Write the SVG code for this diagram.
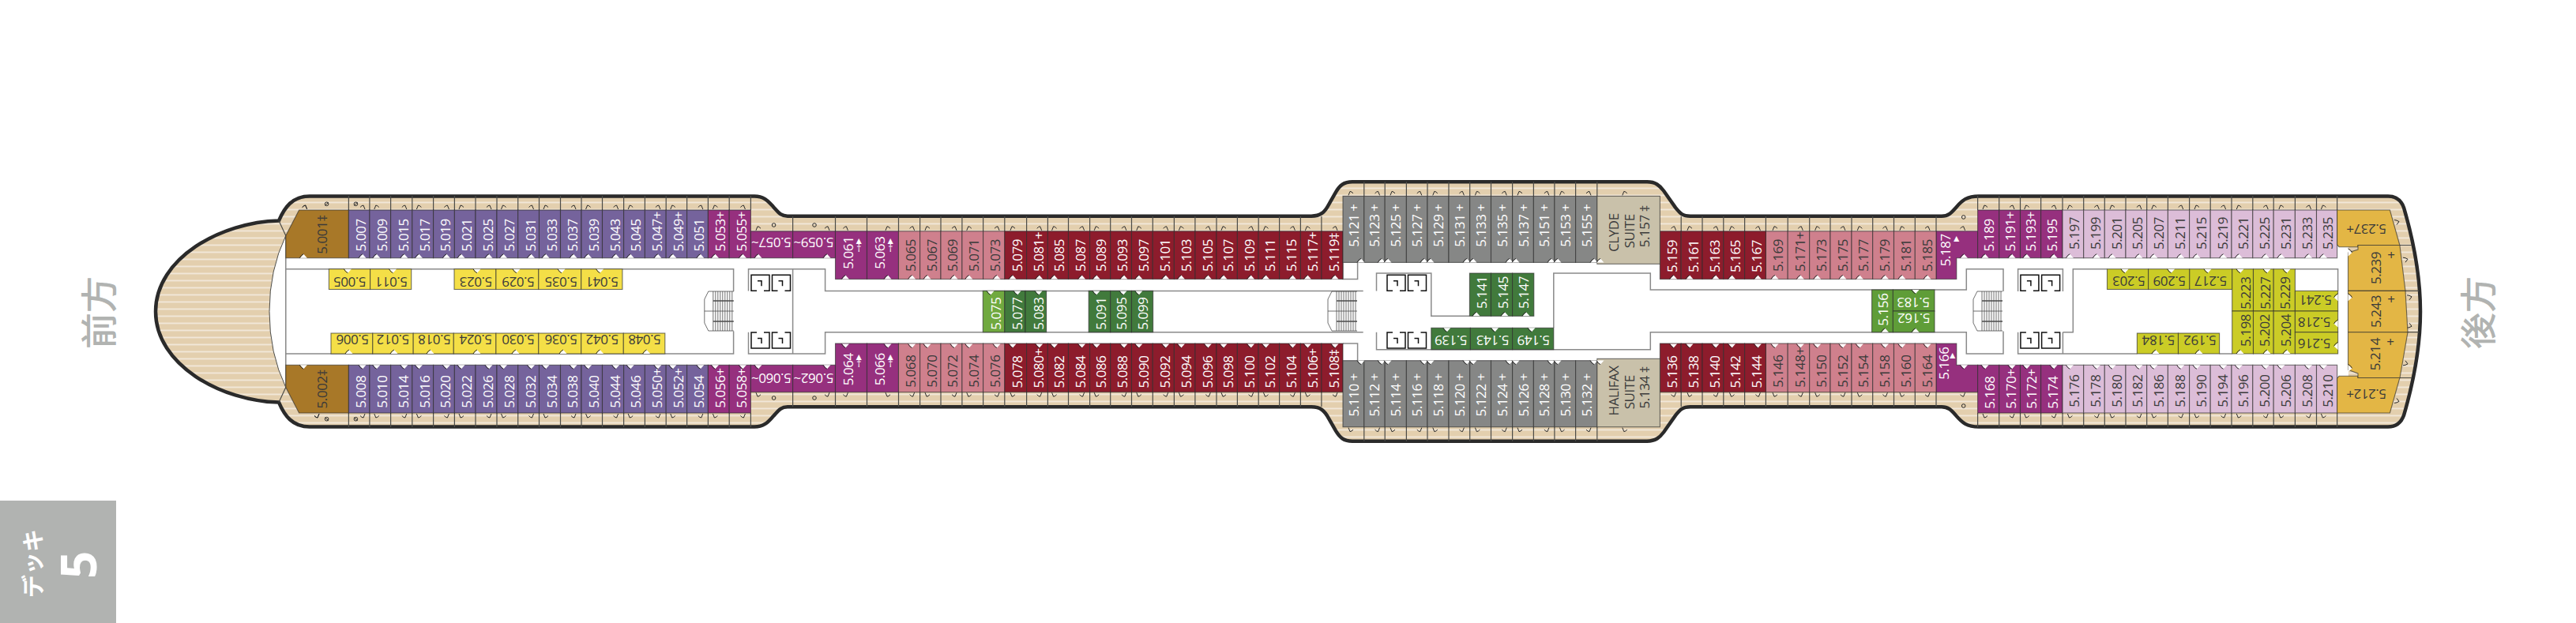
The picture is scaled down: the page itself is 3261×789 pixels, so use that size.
<svg xmlns="http://www.w3.org/2000/svg" width="3261" height="789" viewBox="0 0 3261 789">
<style>
text{font-family:"Open Sans","Noto Sans",sans-serif;font-size:17px;letter-spacing:-.45px;fill:#3a3a3a}
.cjk{font-family:"Noto Sans CJK JP",sans-serif;font-weight:500;letter-spacing:0}
.sm{font-size:12px;text-anchor:middle}
.pl{text-anchor:middle}
rect,.rm{stroke:#2b2b2b;stroke-opacity:.65;stroke-width:1.1}
.w text,text.w{fill:#fff}
.p rect{fill:#75639c}.m rect,.m path{fill:#96307e}.k rect{fill:#cf808d}.r rect{fill:#8d1c2c}.g rect{fill:#868786}
.s rect{fill:#c9c1aa}.l rect{fill:#dcbdd8}.y rect{fill:#f4df47}.o rect{fill:#cbcc26}.a path{fill:#e3b645}.b path{fill:#a87828}
.d rect{fill:#417a3c}.e rect{fill:#5f9d38}.f rect{fill:#70a93f}
.wall{fill:none;stroke:#8a8a8a;stroke-width:1.5}
.div{fill:none;stroke:#4c4c48;stroke-width:1.2}
.ml{fill:none;stroke:none}
.mk{fill:none;stroke:#2b2b2b;stroke-width:1}
.lift{fill:none;stroke:#111;stroke-width:1.5}
</style>
<defs>
<pattern id="dk" width="9" height="9" patternUnits="userSpaceOnUse"><rect width="9" height="9" fill="#e3cfae" style="stroke:none"/><rect y="3.500" width="9" height="1.900" fill="#f1e7d8" style="stroke:none"/></pattern>
<marker id="cl" markerUnits="userSpaceOnUse" markerWidth="16" markerHeight="16" viewBox="-8 -8 16 16" overflow="visible"><path class="mk" d="M-3-3.500Q-1-6 1-6L3-1"/></marker>
<marker id="cr" markerUnits="userSpaceOnUse" markerWidth="16" markerHeight="16" viewBox="-8 -8 16 16" overflow="visible"><path class="mk" d="M3-3.500Q1-6-1-6L-3-1"/></marker>
<marker id="nu" markerUnits="userSpaceOnUse" markerWidth="16" markerHeight="16" viewBox="-8 -8 16 16" overflow="visible"><path fill="#fff" d="M-4.500 0 0-5 4.500 0Z"/><path class="mk" d="M-5 0Q-3-4 0-5"/></marker>
<marker id="nd" markerUnits="userSpaceOnUse" markerWidth="16" markerHeight="16" viewBox="-8 -8 16 16" overflow="visible"><path fill="#fff" d="M-4.500 0 0 5 4.500 0Z"/><path class="mk" d="M-5 0Q-3 4 0 5"/></marker>
<marker id="nl" markerUnits="userSpaceOnUse" markerWidth="16" markerHeight="16" viewBox="-8 -8 16 16" overflow="visible"><path fill="#fff" d="M0-4.500-5 0 0 4.500Z"/><path class="mk" d="M0-5Q-4-3-5 0"/></marker>
<marker id="nr" markerUnits="userSpaceOnUse" markerWidth="16" markerHeight="16" viewBox="-8 -8 16 16" overflow="visible"><path fill="#fff" d="M0-4.500 5 0 0 4.500Z"/><path class="mk" d="M0-5Q4-3 5 0"/></marker>
<marker id="co" markerUnits="userSpaceOnUse" markerWidth="16" markerHeight="16" viewBox="-8 -8 16 16" overflow="visible"><path class="mk" d="M-3-3Q0-3 3-1L0 3"/></marker>
<path id="lt" class="lift" d="M7 20H0V0H23V20H16M8 7.500H13V14"/>
<path id="lb" class="lift" d="M7 0H0V20H23V0H16M8 7.500H13V14"/>
<g id="st" fill="none" stroke="#4c4c4c" stroke-width=".8"><path d="M37 0H5L0 10V40L5 50H37"/><path d="M0 25H37M11 0v50M14 0v50M17 0v50M20 0v50M23 0v50M26 0v50M29 0v50M32 0v50M35 0v50"/><path stroke-width="1.600" d="M11 12H37M11 38H37"/></g>
</defs>

<g id="hull">
<path fill="url(#dk)" stroke="#2a2a2a" stroke-width="4.500" d="M392 248.400H955C968 248.400 973 255.500 979 262C985 268.500 988 273.700 997 273.700H1660C1672 273.700 1677 268.500 1682 259.200L1691 243.300C1696 235 1701 230.300 1712 230.300H2085C2096 230.300 2101 235 2106 241.500L2121 262.900C2127 270.400 2130 273.700 2140 273.700H2458C2467 273.700 2471 268.500 2476 262.900C2484 253.600 2490 248.400 2505 248.400H3023C3034 248.400 3040 254.500 3043 262.900C3055 304 3064 350.700 3064 394.500C3064 438.300 3055 485 3043 526.100C3040 534.500 3034 540.600 3023 540.600H2505C2490 540.600 2484 535.400 2476 526.100C2471 520.500 2467 515.300 2458 515.300H2140C2130 515.300 2127 518.600 2121 526.100L2106 547.500C2101 554 2096 558.700 2085 558.700H1712C1701 558.700 1696 554 1691 545.700L1682 529.800C1677 520.500 1672 515.300 1660 515.300H997C988 515.300 985 520.500 979 527C973 533.500 968 540.600 955 540.600H392C370 540.600 360 526 353 509.600C280 508 197 462 197 394.500C197 327 280 281 353 279.400C360 263 370 248.400 392 248.400Z"/>
<path fill="#fff" stroke="#4c4c48" d="M361.800 298.400Q341 342 341 394.500Q341 447 361.800 490.600Z"/>
<path class="div" d="M353 279.400L361.800 298.400M353 509.600L361.800 490.600"/>
</g>
<rect x="361.800" y="304" width="2611" height="186" fill="#fff" style="stroke:none"/>

<g id="balcony">
<path class="div" d="M441.400 248v18M467.900 248v18M494.600 248v18M521.800 248v18M548.600 248v18M575.400 248v18M602 248v18M629 248v18M655.700 248v18M682.500 248v18M709.500 248v18M736 248v18M762.500 248v18M789.600 248v18M816.400 248v18M843.200 248v18M869.600 248v18M896.400 248v18M923.200 248v18M950.400 248v18M2503.600 248v18M2530.700 248v18M2557.500 248v18M2583.600 248v18M2611 248v18M2637.700 248v18M2664.300 248v18M2691 248v18M2717.700 248v18M2744.400 248v18M2771.600 248v18M2798.200 248v18M2825 248v18M2851.800 248v18M2878.200 248v18M2905.400 248v18M2932.500 248v18M2958.600 248v18M1003.600 274v19M1057.500 274v19M1097.500 274v19M1137.500 274v19M1164.600 274v19M1191 274v19M1217.900 274v19M1244.600 274v19M1271.800 274v19M1299.600 274v19M1326.400 274v19M1352.500 274v19M1379.600 274v19M1405.700 274v19M1432.500 274v19M1459.300 274v19M1486.400 274v19M1512.900 274v19M1540 274v19M1566.400 274v19M1593.200 274v19M1619.600 274v19M1646.400 274v19M1672.900 274v19M2128.200 274v19M2155 274v19M2181.800 274v19M2208.600 274v19M2235.400 274v19M2263.200 274v19M2290.700 274v19M2317 274v19M2344 274v19M2370.700 274v19M2397.500 274v19M2424.300 274v19M2451 274v19M1726.800 230.300v18M1753.200 230.300v18M1780.400 230.300v18M1807 230.300v18M1834 230.300v18M1860.700 230.300v18M1887.500 230.300v18M1914.600 230.300v18M1941.400 230.300v18M1967.900 230.300v18M1994.600 230.300v18M2021.800 230.300v18M3037.900 310.500H3053M3045 368.400H3062"/>
<g class="mk"><circle cx="413.600" cy="258.300" r="2.300"/><circle cx="450.400" cy="258.300" r="2.300"/><path d="M411.600 260.300l4-4M448.400 260.300l4-4"/><circle cx="979.600" cy="285" r="2.300"/><circle cx="1031" cy="285" r="2.300"/><circle cx="2485.700" cy="275" r="2.300"/></g>
<polyline class="ml" marker-start="url(#cl)" marker-mid="url(#cl)" marker-end="url(#cl)" points="459,266 511.8,266 565.4,266 619,266 672.5,266 726,266 779.6,266 832.9,266 886.8,266 940.4,266 2547,266 2600,266 2654.3,266 2707.9,266 2760.7,266 2814.6,266 2868.2,266 2922.5,266 1047,292.8 1070.4,292.8 1154.6,292.8 1208,292.8 1262,292.8 1315.7,292.8 1369.6,292.8 1422.9,292.8 1475.7,292.8 1529.3,292.8 1583.6,292.8 1636.4,292.8 1690,292.8 2118.6,292.8 2172,292.8 2225.4,292.8 2279.3,292.8 2332.9,292.8 2386.4,292.8 2440,292.8 2484.6,292.8 1743.6,248.4 1796.8,248.4 1850.4,248.4 1904.3,248.4 1957.9,248.4 2011,248.4"/>
<polyline class="ml" marker-start="url(#cr)" marker-mid="url(#cr)" marker-end="url(#cr)" points="476.8,266 530.4,266 584,266 637.5,266 691,266 744.6,266 798.2,266 851.8,266 905.4,266 2513,266 2565.7,266 2620.4,266 2674,266 2726.8,266 2781,266 2834.3,266 2887.9,266 2941.4,266 960,292.8 1124,292.8 1174,292.8 1226.8,292.8 1282,292.8 1334.6,292.8 1388.2,292.8 1441.8,292.8 1495.4,292.8 1549,292.8 1602.5,292.8 1655.4,292.8 2139,292.8 2192.5,292.8 2247,292.8 2300.7,292.8 2354.3,292.8 2407.9,292.8 1710,248.4 1763,248.4 1816.8,248.4 1870.4,248.4 1924,248.4 1977.5,248.4 2056.8,248.4"/>
<polyline class="ml" marker-start="url(#co)" marker-mid="url(#co)" marker-end="url(#co)" points="3034,281.6 3045,329.2 3050,376.8"/>
</g>
<use href="#balcony" transform="matrix(1 0 0 -1 0 789)"/>
<polyline class="ml" marker-start="url(#cl)" marker-end="url(#cl)" points="385.7,266 385.7,266"/>
<polyline class="ml" marker-start="url(#cl)" marker-end="url(#cl)" transform="matrix(1 0 0 -1 0 789)" points="401,266 401,266"/>

<g id="walls"><path class="wall" d="M361.800 326.700V462.300M361.800 340.700H928.600V369M928.600 419.400V448H361.800M947.500 368.400V340.700H1044.600V368.400H1700M947.500 420.700V448H1044.600V420.700H1700M1003.600 340.700V448M1700 332.400V353.500H1718.600V332.400M1700 435H1718.600V456.700M1690 368.400H1725.700M1690 420.700H1725.700M1742.500 368.400V346H1811.800V400.300H1860.400M1742.500 420.700V442.700H2089.300V420.700H2489.300V448H2536V419.400M1966.800 415V346H2089.300V367H2489.300V340.700H2536V369M2554.600 369V340.700H2611.400V369M2554.600 420.700V448H2705.400M2611.400 420.700V448M2611.400 420.700H2624.300V340.700H2667.500M2905.400 340.700H2959.600V368.400M2809.600 448H2825.700"/>
<use href="#st" x="891.800" y="369"/><use href="#st" x="1681" y="369"/><use href="#st" x="2498" y="369"/>
<use href="#lt" x="951" y="348.300"/><use href="#lt" x="977.500" y="348.300"/><use href="#lb" x="951" y="421"/><use href="#lb" x="977.500" y="421"/>
<use href="#lt" x="1756" y="348.300"/><use href="#lt" x="1782.500" y="348.300"/><use href="#lb" x="1756" y="421"/><use href="#lb" x="1782.500" y="421"/>
<use href="#lt" x="2557.900" y="348.300"/><use href="#lt" x="2584.600" y="348.300"/><use href="#lb" x="2557.900" y="421"/><use href="#lb" x="2584.600" y="421"/>
</g>

<g id="fwd">
<g class="b"><path class="rm" d="M361.800 326.700V298.400L378.600 266H441.400V326.700Z"/><text transform="translate(413.600 321.700)rotate(-90)">5.001‡</text></g>
<g class="b"><path class="rm" d="M361.800 462.300V490.600L378.600 523H441.400V462.300Z"/><text transform="translate(413.600 517.400)rotate(-90)">5.002‡</text></g>
</g>
<g class="p w">
<rect x="441.400" y="266" width="26.500" height="60.700"/><text transform="translate(462.900 318.400)rotate(-90)">5.007</text>
<rect x="467.900" y="266" width="26.700" height="60.700"/><text transform="translate(489.600 318.400)rotate(-90)">5.009</text>
<rect x="494.600" y="266" width="27.200" height="60.700"/><text transform="translate(516.800 318.400)rotate(-90)">5.015</text>
<rect x="521.800" y="266" width="26.800" height="60.700"/><text transform="translate(543.600 318.400)rotate(-90)">5.017</text>
<rect x="548.600" y="266" width="26.800" height="60.700"/><text transform="translate(570.400 318.400)rotate(-90)">5.019</text>
<rect x="575.400" y="266" width="26.600" height="60.700"/><text transform="translate(597 318.400)rotate(-90)">5.021</text>
<rect x="602" y="266" width="27" height="60.700"/><text transform="translate(624 318.400)rotate(-90)">5.025</text>
<rect x="629" y="266" width="26.700" height="60.700"/><text transform="translate(650.700 318.400)rotate(-90)">5.027</text>
<rect x="655.700" y="266" width="26.800" height="60.700"/><text transform="translate(677.500 318.400)rotate(-90)">5.031</text>
<rect x="682.500" y="266" width="27" height="60.700"/><text transform="translate(704.500 318.400)rotate(-90)">5.033</text>
<rect x="709.500" y="266" width="26.500" height="60.700"/><text transform="translate(731 318.400)rotate(-90)">5.037</text>
<rect x="736" y="266" width="26.500" height="60.700"/><text transform="translate(757.500 318.400)rotate(-90)">5.039</text>
<rect x="762.500" y="266" width="27.100" height="60.700"/><text transform="translate(784.600 318.400)rotate(-90)">5.043</text>
<rect x="789.600" y="266" width="26.800" height="60.700"/><text transform="translate(811.400 318.400)rotate(-90)">5.045</text>
<rect x="816.400" y="266" width="26.800" height="60.700"/><text transform="translate(838.200 318.400)rotate(-90)">5.047+</text>
<rect x="843.200" y="266" width="26.400" height="60.700"/><text transform="translate(864.600 318.400)rotate(-90)">5.049+</text>
<rect x="869.600" y="266" width="26.800" height="60.700"/><text transform="translate(891.400 318.400)rotate(-90)">5.051</text>
<rect x="441.400" y="462.300" width="26.500" height="60.700"/><text transform="translate(462.900 516.700)rotate(-90)">5.008</text>
<rect x="467.900" y="462.300" width="26.700" height="60.700"/><text transform="translate(489.600 516.700)rotate(-90)">5.010</text>
<rect x="494.600" y="462.300" width="27.200" height="60.700"/><text transform="translate(516.800 516.700)rotate(-90)">5.014</text>
<rect x="521.800" y="462.300" width="26.800" height="60.700"/><text transform="translate(543.600 516.700)rotate(-90)">5.016</text>
<rect x="548.600" y="462.300" width="26.800" height="60.700"/><text transform="translate(570.400 516.700)rotate(-90)">5.020</text>
<rect x="575.400" y="462.300" width="26.600" height="60.700"/><text transform="translate(597 516.700)rotate(-90)">5.022</text>
<rect x="602" y="462.300" width="27" height="60.700"/><text transform="translate(624 516.700)rotate(-90)">5.026</text>
<rect x="629" y="462.300" width="26.700" height="60.700"/><text transform="translate(650.700 516.700)rotate(-90)">5.028</text>
<rect x="655.700" y="462.300" width="26.800" height="60.700"/><text transform="translate(677.500 516.700)rotate(-90)">5.032</text>
<rect x="682.500" y="462.300" width="27" height="60.700"/><text transform="translate(704.500 516.700)rotate(-90)">5.034</text>
<rect x="709.500" y="462.300" width="26.500" height="60.700"/><text transform="translate(731 516.700)rotate(-90)">5.038</text>
<rect x="736" y="462.300" width="26.500" height="60.700"/><text transform="translate(757.500 516.700)rotate(-90)">5.040</text>
<rect x="762.500" y="462.300" width="27.100" height="60.700"/><text transform="translate(784.600 516.700)rotate(-90)">5.044</text>
<rect x="789.600" y="462.300" width="26.800" height="60.700"/><text transform="translate(811.400 516.700)rotate(-90)">5.046</text>
<rect x="816.400" y="462.300" width="26.800" height="60.700"/><text transform="translate(838.200 516.700)rotate(-90)">5.050+</text>
<rect x="843.200" y="462.300" width="26.400" height="60.700"/><text transform="translate(864.600 516.700)rotate(-90)">5.052+</text>
<rect x="869.600" y="462.300" width="26.800" height="60.700"/><text transform="translate(891.400 516.700)rotate(-90)">5.054</text>
</g>
<g class="m w">
<rect x="896.400" y="266" width="26.800" height="60.700"/><text transform="translate(918 318.400)rotate(-90)">5.053+</text>
<rect x="923.200" y="266" width="27.200" height="60.700"/><text transform="translate(945 318.400)rotate(-90)">5.055+</text>
<rect x="896.400" y="462.300" width="26.800" height="60.700"/><text transform="translate(918 516.700)rotate(-90)">5.056+</text>
<rect x="923.200" y="462.300" width="27.200" height="60.700"/><text transform="translate(945 516.700)rotate(-90)">5.058+</text>
<rect x="950.400" y="292.800" width="53.200" height="33.900"/><text transform="translate(1001.800 301)rotate(180)">5.057~</text>
<rect x="1003.600" y="292.800" width="53.900" height="33.900"/><text transform="translate(1055.400 301)rotate(180)">5.059~</text>
<rect x="950.400" y="462.300" width="53.200" height="34.300"/><text transform="translate(1001.800 473.300)rotate(180)">5.060~</text>
<rect x="1003.600" y="462.300" width="53.900" height="34.300"/><text transform="translate(1055.400 473.300)rotate(180)">5.062~</text>
<rect x="1057.500" y="292.800" width="40" height="60.700"/><text transform="translate(1080.400 340.700)rotate(-90)">5.061</text><text class="sm w" x="1087" y="309">▲</text><text class="sm w" x="1087" y="319">†</text>
<rect x="1097.500" y="292.800" width="40" height="60.700"/><text transform="translate(1120.400 340.700)rotate(-90)">5.063</text><text class="sm w" x="1127" y="309">▲</text><text class="sm w" x="1127" y="319">†</text>
<rect x="1057.500" y="435" width="40" height="61.600"/><text transform="translate(1080.400 488.300)rotate(-90)">5.064</text><text class="sm w" x="1087" y="455.500">▲</text><text class="sm w" x="1087" y="465">†</text>
<rect x="1097.500" y="435" width="40" height="61.600"/><text transform="translate(1120.400 488.300)rotate(-90)">5.066</text><text class="sm w" x="1127" y="455.500">▲</text><text class="sm w" x="1127" y="465">†</text>
<path class="rm" d="M2451 292.800H2503.600V326.700H2476.800V353.500H2451Z"/><text transform="translate(2468.600 337.300)rotate(-90)">5.187</text><text class="sm w" x="2476.400" y="306">▲</text>
<path class="rm" d="M2451 496.600H2503.600V462.300H2476.800V435H2451Z"/><text transform="translate(2466.800 480.700)rotate(-90)">5.166</text><text class="sm w" x="2471.400" y="454">▲</text>
<rect x="2503.600" y="266" width="27.100" height="60.700"/><text transform="translate(2523.900 318.400)rotate(-90)">5.189</text>
<rect x="2530.700" y="266" width="26.800" height="60.700"/><text transform="translate(2550.700 318.400)rotate(-90)">5.191+</text>
<rect x="2557.500" y="266" width="26.100" height="60.700"/><text transform="translate(2576.800 318.400)rotate(-90)">5.193+</text>
<rect x="2583.600" y="266" width="27.400" height="60.700"/><text transform="translate(2604 318.400)rotate(-90)">5.195</text>
<rect x="2503.600" y="462.300" width="27.100" height="60.700"/><text transform="translate(2525 517.700)rotate(-90)">5.168</text>
<rect x="2530.700" y="462.300" width="26.800" height="60.700"/><text transform="translate(2551.800 517.700)rotate(-90)">5.170+</text>
<rect x="2557.500" y="462.300" width="26.100" height="60.700"/><text transform="translate(2577.800 517.700)rotate(-90)">5.172+</text>
<rect x="2583.600" y="462.300" width="27.400" height="60.700"/><text transform="translate(2605 517.700)rotate(-90)">5.174</text>
</g>
<g class="k">
<rect x="1137.500" y="292.800" width="27.100" height="60.700"/><text transform="translate(1159 344)rotate(-90)">5.065</text>
<rect x="1164.600" y="292.800" width="26.400" height="60.700"/><text transform="translate(1185.500 344)rotate(-90)">5.067</text>
<rect x="1191" y="292.800" width="26.900" height="60.700"/><text transform="translate(1212.400 344)rotate(-90)">5.069</text>
<rect x="1217.900" y="292.800" width="26.700" height="60.700"/><text transform="translate(1239.100 344)rotate(-90)">5.071</text>
<rect x="1244.600" y="292.800" width="27.200" height="60.700"/><text transform="translate(1266.300 344)rotate(-90)">5.073</text>
<rect x="1137.500" y="435" width="27.100" height="61.600"/><text transform="translate(1159 490.700)rotate(-90)">5.068</text>
<rect x="1164.600" y="435" width="26.400" height="61.600"/><text transform="translate(1185.500 490.700)rotate(-90)">5.070</text>
<rect x="1191" y="435" width="26.900" height="61.600"/><text transform="translate(1212.400 490.700)rotate(-90)">5.072</text>
<rect x="1217.900" y="435" width="26.700" height="61.600"/><text transform="translate(1239.100 490.700)rotate(-90)">5.074</text>
<rect x="1244.600" y="435" width="27.200" height="61.600"/><text transform="translate(1266.300 490.700)rotate(-90)">5.076</text>
<rect x="2235.400" y="292.800" width="27.800" height="60.700"/><text transform="translate(2257 344)rotate(-90)">5.169</text>
<rect x="2263.200" y="292.800" width="27.500" height="60.700"/><text transform="translate(2284.700 344)rotate(-90)">5.171+</text>
<rect x="2290.700" y="292.800" width="26.300" height="60.700"/><text transform="translate(2311.500 344)rotate(-90)">5.173</text>
<rect x="2317" y="292.800" width="27" height="60.700"/><text transform="translate(2338.500 344)rotate(-90)">5.175</text>
<rect x="2344" y="292.800" width="26.700" height="60.700"/><text transform="translate(2365.200 344)rotate(-90)">5.177</text>
<rect x="2370.700" y="292.800" width="26.800" height="60.700"/><text transform="translate(2392 344)rotate(-90)">5.179</text>
<rect x="2397.500" y="292.800" width="26.800" height="60.700"/><text transform="translate(2418.800 344)rotate(-90)">5.181</text>
<rect x="2424.300" y="292.800" width="26.700" height="60.700"/><text transform="translate(2445.500 344)rotate(-90)">5.185</text>
<rect x="2235.400" y="435" width="27.800" height="61.600"/><text transform="translate(2257 490.700)rotate(-90)">5.146</text>
<rect x="2263.200" y="435" width="27.500" height="61.600"/><text transform="translate(2284.700 490.700)rotate(-90)">5.148+</text>
<rect x="2290.700" y="435" width="26.300" height="61.600"/><text transform="translate(2311.500 490.700)rotate(-90)">5.150</text>
<rect x="2317" y="435" width="27" height="61.600"/><text transform="translate(2338.500 490.700)rotate(-90)">5.152</text>
<rect x="2344" y="435" width="26.700" height="61.600"/><text transform="translate(2365.200 490.700)rotate(-90)">5.154</text>
<rect x="2370.700" y="435" width="26.800" height="61.600"/><text transform="translate(2392 490.700)rotate(-90)">5.158</text>
<rect x="2397.500" y="435" width="26.800" height="61.600"/><text transform="translate(2418.800 490.700)rotate(-90)">5.160</text>
<rect x="2424.300" y="435" width="26.700" height="61.600"/><text transform="translate(2445.500 490.700)rotate(-90)">5.164</text>
</g>
<g class="r w">
<rect x="1271.800" y="292.800" width="27.800" height="60.700"/><text transform="translate(1293.600 344)rotate(-90)">5.079</text>
<rect x="1299.600" y="292.800" width="26.800" height="60.700"/><text transform="translate(1320.600 344)rotate(-90)">5.081+</text>
<rect x="1326.400" y="292.800" width="26.100" height="60.700"/><text transform="translate(1347 344)rotate(-90)">5.085</text>
<rect x="1352.500" y="292.800" width="27.100" height="60.700"/><text transform="translate(1374 344)rotate(-90)">5.087</text>
<rect x="1379.600" y="292.800" width="26.100" height="60.700"/><text transform="translate(1400 344)rotate(-90)">5.089</text>
<rect x="1405.700" y="292.800" width="26.800" height="60.700"/><text transform="translate(1427 344)rotate(-90)">5.093</text>
<rect x="1432.500" y="292.800" width="26.800" height="60.700"/><text transform="translate(1454 344)rotate(-90)">5.097</text>
<rect x="1459.300" y="292.800" width="27.100" height="60.700"/><text transform="translate(1481 344)rotate(-90)">5.101</text>
<rect x="1486.400" y="292.800" width="26.500" height="60.700"/><text transform="translate(1507.500 344)rotate(-90)">5.103</text>
<rect x="1512.900" y="292.800" width="27.100" height="60.700"/><text transform="translate(1534.500 344)rotate(-90)">5.105</text>
<rect x="1540" y="292.800" width="26.400" height="60.700"/><text transform="translate(1561 344)rotate(-90)">5.107</text>
<rect x="1566.400" y="292.800" width="26.800" height="60.700"/><text transform="translate(1587.800 344)rotate(-90)">5.109</text>
<rect x="1593.200" y="292.800" width="26.400" height="60.700"/><text transform="translate(1614.200 344)rotate(-90)">5.111</text>
<rect x="1619.600" y="292.800" width="26.800" height="60.700"/><text transform="translate(1641 344)rotate(-90)">5.115</text>
<rect x="1646.400" y="292.800" width="26.500" height="60.700"/><text transform="translate(1667.500 344)rotate(-90)">5.117+</text>
<rect x="1672.900" y="292.800" width="27.100" height="60.700"/><text transform="translate(1694.500 344)rotate(-90)">5.119‡</text>
<rect x="1271.800" y="435" width="27.800" height="61.600"/><text transform="translate(1293.600 491.600)rotate(-90)">5.078</text>
<rect x="1299.600" y="435" width="26.800" height="61.600"/><text transform="translate(1320.600 491.600)rotate(-90)">5.080+</text>
<rect x="1326.400" y="435" width="26.100" height="61.600"/><text transform="translate(1347 491.600)rotate(-90)">5.082</text>
<rect x="1352.500" y="435" width="27.100" height="61.600"/><text transform="translate(1374 491.600)rotate(-90)">5.084</text>
<rect x="1379.600" y="435" width="26.100" height="61.600"/><text transform="translate(1400 491.600)rotate(-90)">5.086</text>
<rect x="1405.700" y="435" width="26.800" height="61.600"/><text transform="translate(1427 491.600)rotate(-90)">5.088</text>
<rect x="1432.500" y="435" width="26.800" height="61.600"/><text transform="translate(1454 491.600)rotate(-90)">5.090</text>
<rect x="1459.300" y="435" width="27.100" height="61.600"/><text transform="translate(1481 491.600)rotate(-90)">5.092</text>
<rect x="1486.400" y="435" width="26.500" height="61.600"/><text transform="translate(1507.500 491.600)rotate(-90)">5.094</text>
<rect x="1512.900" y="435" width="27.100" height="61.600"/><text transform="translate(1534.500 491.600)rotate(-90)">5.096</text>
<rect x="1540" y="435" width="26.400" height="61.600"/><text transform="translate(1561 491.600)rotate(-90)">5.098</text>
<rect x="1566.400" y="435" width="26.800" height="61.600"/><text transform="translate(1587.800 491.600)rotate(-90)">5.100</text>
<rect x="1593.200" y="435" width="26.400" height="61.600"/><text transform="translate(1614.200 491.600)rotate(-90)">5.102</text>
<rect x="1619.600" y="435" width="26.800" height="61.600"/><text transform="translate(1641 491.600)rotate(-90)">5.104</text>
<rect x="1646.400" y="435" width="26.500" height="61.600"/><text transform="translate(1667.500 491.600)rotate(-90)">5.106+</text>
<rect x="1672.900" y="435" width="27.100" height="61.600"/><text transform="translate(1694.500 491.600)rotate(-90)">5.108‡</text>
<rect x="2101.400" y="292.800" width="26.800" height="60.700"/><text transform="translate(2122.900 345)rotate(-90)">5.159</text>
<rect x="2128.200" y="292.800" width="26.800" height="60.700"/><text transform="translate(2149.700 345)rotate(-90)">5.161</text>
<rect x="2155" y="292.800" width="26.800" height="60.700"/><text transform="translate(2176.500 345)rotate(-90)">5.163</text>
<rect x="2181.800" y="292.800" width="26.800" height="60.700"/><text transform="translate(2203.300 345)rotate(-90)">5.165</text>
<rect x="2208.600" y="292.800" width="26.800" height="60.700"/><text transform="translate(2230.100 345)rotate(-90)">5.167</text>
<rect x="2101.400" y="435" width="26.800" height="61.600"/><text transform="translate(2122.900 491.600)rotate(-90)">5.136</text>
<rect x="2128.200" y="435" width="26.800" height="61.600"/><text transform="translate(2149.700 491.600)rotate(-90)">5.138</text>
<rect x="2155" y="435" width="26.800" height="61.600"/><text transform="translate(2176.500 491.600)rotate(-90)">5.140</text>
<rect x="2181.800" y="435" width="26.800" height="61.600"/><text transform="translate(2203.300 491.600)rotate(-90)">5.142</text>
<rect x="2208.600" y="435" width="26.800" height="61.600"/><text transform="translate(2230.100 491.600)rotate(-90)">5.144</text>
</g>
<g class="g w">
<rect x="1700" y="248.400" width="26.800" height="84"/><text transform="translate(1720 312.700)rotate(-90)">5.121 +</text>
<rect x="1726.800" y="248.400" width="26.400" height="84"/><text transform="translate(1746.400 312.700)rotate(-90)">5.123 +</text>
<rect x="1753.200" y="248.400" width="27.200" height="84"/><text transform="translate(1773.200 312.700)rotate(-90)">5.125 +</text>
<rect x="1780.400" y="248.400" width="26.600" height="84"/><text transform="translate(1800 312.700)rotate(-90)">5.127 +</text>
<rect x="1807" y="248.400" width="27" height="84"/><text transform="translate(1827 312.700)rotate(-90)">5.129 +</text>
<rect x="1834" y="248.400" width="26.700" height="84"/><text transform="translate(1853.700 312.700)rotate(-90)">5.131 +</text>
<rect x="1860.700" y="248.400" width="26.800" height="84"/><text transform="translate(1880.500 312.700)rotate(-90)">5.133 +</text>
<rect x="1887.500" y="248.400" width="27.100" height="84"/><text transform="translate(1907.500 312.700)rotate(-90)">5.135 +</text>
<rect x="1914.600" y="248.400" width="26.800" height="84"/><text transform="translate(1934.500 312.700)rotate(-90)">5.137 +</text>
<rect x="1941.400" y="248.400" width="26.500" height="84"/><text transform="translate(1961 312.700)rotate(-90)">5.151 +</text>
<rect x="1967.900" y="248.400" width="26.700" height="84"/><text transform="translate(1987.800 312.700)rotate(-90)">5.153 +</text>
<rect x="1994.600" y="248.400" width="27.200" height="84"/><text transform="translate(2014.600 312.700)rotate(-90)">5.155 +</text>
<rect x="1700" y="456.700" width="26.800" height="84"/><text transform="translate(1720 527.400)rotate(-90)">5.110 +</text>
<rect x="1726.800" y="456.700" width="26.400" height="84"/><text transform="translate(1746.400 527.400)rotate(-90)">5.112 +</text>
<rect x="1753.200" y="456.700" width="27.200" height="84"/><text transform="translate(1773.200 527.400)rotate(-90)">5.114 +</text>
<rect x="1780.400" y="456.700" width="26.600" height="84"/><text transform="translate(1800 527.400)rotate(-90)">5.116 +</text>
<rect x="1807" y="456.700" width="27" height="84"/><text transform="translate(1827 527.400)rotate(-90)">5.118 +</text>
<rect x="1834" y="456.700" width="26.700" height="84"/><text transform="translate(1853.700 527.400)rotate(-90)">5.120 +</text>
<rect x="1860.700" y="456.700" width="26.800" height="84"/><text transform="translate(1880.500 527.400)rotate(-90)">5.122 +</text>
<rect x="1887.500" y="456.700" width="27.100" height="84"/><text transform="translate(1907.500 527.400)rotate(-90)">5.124 +</text>
<rect x="1914.600" y="456.700" width="26.800" height="84"/><text transform="translate(1934.500 527.400)rotate(-90)">5.126 +</text>
<rect x="1941.400" y="456.700" width="26.500" height="84"/><text transform="translate(1961 527.400)rotate(-90)">5.128 +</text>
<rect x="1967.900" y="456.700" width="26.700" height="84"/><text transform="translate(1987.800 527.400)rotate(-90)">5.130 +</text>
<rect x="1994.600" y="456.700" width="27.200" height="84"/><text transform="translate(2014.600 527.400)rotate(-90)">5.132 +</text>
</g>
<g class="s">
<rect x="2021.800" y="248.400" width="79.600" height="85.900"/><text transform="translate(2048.600 318.900)rotate(-90)">CLYDE</text><text transform="translate(2068.600 314.300)rotate(-90)">SUITE</text><text transform="translate(2087.900 313.300)rotate(-90)">5.157 ‡</text>
<rect x="2021.800" y="454.300" width="79.600" height="86.400"/><text transform="translate(2048.600 526.400)rotate(-90)">HALIFAX</text><text transform="translate(2068.600 518.300)rotate(-90)">SUITE</text><text transform="translate(2087.900 517.400)rotate(-90)">5.134 ‡</text>
</g>
<g class="l">
<rect x="2611" y="266" width="26.700" height="60.700"/><text transform="translate(2632 316)rotate(-90)">5.197</text>
<rect x="2637.700" y="266" width="26.600" height="60.700"/><text transform="translate(2658.800 316)rotate(-90)">5.199</text>
<rect x="2664.300" y="266" width="26.700" height="60.700"/><text transform="translate(2685.500 316)rotate(-90)">5.201</text>
<rect x="2691" y="266" width="26.700" height="60.700"/><text transform="translate(2712.200 316)rotate(-90)">5.205</text>
<rect x="2717.700" y="266" width="26.700" height="60.700"/><text transform="translate(2738.900 316)rotate(-90)">5.207</text>
<rect x="2744.400" y="266" width="27.200" height="60.700"/><text transform="translate(2766 316)rotate(-90)">5.211</text>
<rect x="2771.600" y="266" width="26.600" height="60.700"/><text transform="translate(2792.700 316)rotate(-90)">5.215</text>
<rect x="2798.200" y="266" width="26.800" height="60.700"/><text transform="translate(2819.500 316)rotate(-90)">5.219</text>
<rect x="2825" y="266" width="26.800" height="60.700"/><text transform="translate(2846.300 316)rotate(-90)">5.221</text>
<rect x="2851.800" y="266" width="26.400" height="60.700"/><text transform="translate(2872.700 316)rotate(-90)">5.225</text>
<rect x="2878.200" y="266" width="27.200" height="60.700"/><text transform="translate(2899.900 316)rotate(-90)">5.231</text>
<rect x="2905.400" y="266" width="27.100" height="60.700"/><text transform="translate(2927 316)rotate(-90)">5.233</text>
<rect x="2932.500" y="266" width="26.100" height="60.700"/><text transform="translate(2953.100 316)rotate(-90)">5.235</text>
<rect x="2611" y="462.300" width="26.700" height="60.700"/><text transform="translate(2632 515.700)rotate(-90)">5.176</text>
<rect x="2637.700" y="462.300" width="26.600" height="60.700"/><text transform="translate(2658.800 515.700)rotate(-90)">5.178</text>
<rect x="2664.300" y="462.300" width="26.700" height="60.700"/><text transform="translate(2685.500 515.700)rotate(-90)">5.180</text>
<rect x="2691" y="462.300" width="26.700" height="60.700"/><text transform="translate(2712.200 515.700)rotate(-90)">5.182</text>
<rect x="2717.700" y="462.300" width="26.700" height="60.700"/><text transform="translate(2738.900 515.700)rotate(-90)">5.186</text>
<rect x="2744.400" y="462.300" width="27.200" height="60.700"/><text transform="translate(2766 515.700)rotate(-90)">5.188</text>
<rect x="2771.600" y="462.300" width="26.600" height="60.700"/><text transform="translate(2792.700 515.700)rotate(-90)">5.190</text>
<rect x="2798.200" y="462.300" width="26.800" height="60.700"/><text transform="translate(2819.500 515.700)rotate(-90)">5.194</text>
<rect x="2825" y="462.300" width="26.800" height="60.700"/><text transform="translate(2846.300 515.700)rotate(-90)">5.196</text>
<rect x="2851.800" y="462.300" width="26.400" height="60.700"/><text transform="translate(2872.700 515.700)rotate(-90)">5.200</text>
<rect x="2878.200" y="462.300" width="27.200" height="60.700"/><text transform="translate(2899.900 515.700)rotate(-90)">5.206</text>
<rect x="2905.400" y="462.300" width="27.100" height="60.700"/><text transform="translate(2927 515.700)rotate(-90)">5.208</text>
<rect x="2932.500" y="462.300" width="26.100" height="60.700"/><text transform="translate(2953.100 515.700)rotate(-90)">5.210</text>
</g>
<g class="y">
<rect x="416.400" y="340.700" width="52.200" height="25.800"/><text transform="translate(463.600 350.700)rotate(180)">5.005</text>
<rect x="468.600" y="340.700" width="52.100" height="25.800"/><text transform="translate(516 350.700)rotate(180)">5.011</text>
<rect x="575" y="340.700" width="52.900" height="25.800"/><text transform="translate(623.200 350.700)rotate(180)">5.023</text>
<rect x="627.900" y="340.700" width="53.900" height="25.800"/><text transform="translate(676.800 350.700)rotate(180)">5.029</text>
<rect x="681.800" y="340.700" width="53.900" height="25.800"/><text transform="translate(731 350.700)rotate(180)">5.035</text>
<rect x="735.700" y="340.700" width="52.200" height="25.800"/><text transform="translate(782.900 350.700)rotate(180)">5.041</text>
<rect x="419" y="422" width="52.800" height="26"/><text transform="translate(467 424.400)rotate(180)">5.006</text>
<rect x="471.800" y="422" width="51.400" height="26"/><text transform="translate(518.200 424.400)rotate(180)">5.012</text>
<rect x="523.200" y="422" width="51.100" height="26"/><text transform="translate(570.700 424.400)rotate(180)">5.018</text>
<rect x="574.300" y="422" width="53.600" height="26"/><text transform="translate(623 424.400)rotate(180)">5.024</text>
<rect x="627.900" y="422" width="53.900" height="26"/><text transform="translate(676.800 424.400)rotate(180)">5.030</text>
<rect x="681.800" y="422" width="53.900" height="26"/><text transform="translate(731 424.400)rotate(180)">5.036</text>
<rect x="735.700" y="422" width="53.600" height="26"/><text transform="translate(783.200 424.400)rotate(180)">5.042</text>
<rect x="789.300" y="422" width="52.500" height="26"/><text transform="translate(836.800 424.400)rotate(180)">5.048</text>
</g>
<g class="f w"><rect x="1244.300" y="368.400" width="27.500" height="52.300"/><text transform="translate(1266.800 417.700)rotate(-90)">5.075</text></g>
<g class="d w">
<rect x="1271.800" y="368.400" width="26.200" height="52.300"/><text transform="translate(1293.600 417.700)rotate(-90)">5.077</text>
<rect x="1298" y="368.400" width="26.600" height="52.300"/><text transform="translate(1320.700 417.700)rotate(-90)">5.083</text>
<rect x="1378.200" y="368.400" width="27.500" height="52.300"/><text transform="translate(1399.600 417.700)rotate(-90)">5.091</text>
<rect x="1405.700" y="368.400" width="26.800" height="52.300"/><text transform="translate(1426.400 417.700)rotate(-90)">5.095</text>
<rect x="1432.500" y="368.400" width="27.100" height="52.300"/><text transform="translate(1453.200 417.700)rotate(-90)">5.099</text>
<rect x="1860.400" y="346" width="27.100" height="54.300"/><text transform="translate(1881.800 391)rotate(-90)">5.141</text>
<rect x="1887.500" y="346" width="27.100" height="54.300"/><text transform="translate(1908.600 391)rotate(-90)">5.145</text>
<rect x="1914.600" y="346" width="27.200" height="54.300"/><text transform="translate(1935.400 391)rotate(-90)">5.147</text>
<rect x="1811.800" y="415.300" width="49.600" height="27.400"/><text transform="translate(1857.500 425)rotate(180)">5.139</text>
<rect x="1861.400" y="415.300" width="53.200" height="27.400"/><text transform="translate(1910.400 425)rotate(180)">5.143</text>
<rect x="1914.600" y="415.300" width="52.200" height="27.400"/><text transform="translate(1962 425)rotate(180)">5.149</text>
</g>
<g class="e w">
<rect x="2369.600" y="367" width="26.800" height="53.700"/><text transform="translate(2390 412.700)rotate(-90)">5.156</text>
<rect x="2396.400" y="367" width="52.600" height="27"/><text transform="translate(2442.900 376.700)rotate(180)">5.183</text>
<rect x="2396.400" y="394" width="52.600" height="26.700"/><text transform="translate(2443.600 397.300)rotate(180)">5.162</text>
</g>
<g class="o">
<rect x="2667.500" y="340.700" width="52.100" height="25.800"/><text transform="translate(2715.700 350)rotate(180)">5.203</text>
<rect x="2719.600" y="340.700" width="52.200" height="25.800"/><text transform="translate(2767 350)rotate(180)">5.209</text>
<rect x="2771.800" y="340.700" width="53.900" height="25.800"/><text transform="translate(2819.300 350)rotate(180)">5.217</text>
<rect x="2705.400" y="422" width="52.100" height="26"/><text transform="translate(2753.200 425)rotate(180)">5.184</text>
<rect x="2757.500" y="422" width="52.100" height="26"/><text transform="translate(2805.700 425)rotate(180)">5.192</text>
<rect x="2825.700" y="340.700" width="26.800" height="53.300"/><text transform="translate(2848.600 391.700)rotate(-90)">5.223</text>
<rect x="2852.500" y="340.700" width="25.700" height="53.300"/><text transform="translate(2873.600 391.700)rotate(-90)">5.227</text>
<rect x="2878.200" y="340.700" width="27.200" height="53.300"/><text transform="translate(2899.300 391.700)rotate(-90)">5.229</text>
<rect x="2825.700" y="394" width="26.800" height="54"/><text transform="translate(2848.600 439)rotate(-90)">5.198</text>
<rect x="2852.500" y="394" width="25.700" height="54"/><text transform="translate(2872.900 439)rotate(-90)">5.202</text>
<rect x="2878.200" y="394" width="27.200" height="54"/><text transform="translate(2899.600 439)rotate(-90)">5.204</text>
<rect x="2905.400" y="368.400" width="54.200" height="25.600"/><text transform="translate(2952 374)rotate(180)">5.241</text>
<rect x="2905.400" y="394" width="54.200" height="26.700"/><text transform="translate(2950.400 401.600)rotate(180)">5.218</text>
<rect x="2905.400" y="420.700" width="54.200" height="27.300"/><text transform="translate(2950.400 429.400)rotate(180)">5.216</text>
</g>
<g class="a">
<path class="rm" d="M2958.600 266H3025.400L3037.900 310.500H2985V312.700H2961L2958.600 309.800Z"/><text transform="translate(3021 284)rotate(180)">5.237+</text>
<path class="rm" d="M2958.600 523H3025.400L3037.900 478.500H2985V476.300H2961L2958.600 479.200Z"/><text transform="translate(3021 492.500)rotate(180)">5.212+</text>
<path class="rm" d="M2985 310.500H3037.900L3045 368.400H2972.500V319.900L2985 316.100Z"/><text transform="translate(3013.600 360)rotate(-90)">5.239</text><text class="pl" x="3027" y="329">+</text>
<path class="rm" d="M2972.500 368.400H3045L3048 420.700H2972.500Z"/><text transform="translate(3013.600 415)rotate(-90)">5.243</text><text class="pl" x="3027" y="385">+</text>
<path class="rm" d="M2972.500 420.700H3048L3038 478.500H2985V473L2972.500 468.300Z"/><text transform="translate(3013 469.200)rotate(-90)">5.214</text><text class="pl" x="3026" y="439">+</text>
</g>

<g id="doors">
<g id="upperDoors">
<polyline class="ml" marker-start="url(#nu)" marker-mid="url(#nu)" marker-end="url(#nu)" points="384.3,326.7 459,326.7 476.8,326.7 511.8,326.7 530.4,326.7 565.4,326.7 584,326.7 619,326.7 637.5,326.7 672.5,326.7 691,326.7 726,326.7 744.6,326.7 779.6,326.7 798.2,326.7 832.9,326.7 851.8,326.7 886.8,326.7 905.4,326.7 940.4,326.7 960,326.7 1047,326.7 2486.4,326.7 2513,326.7 2547,326.7 2565.7,326.7 2600,326.7 2620.4,326.7 2654.3,326.7 2674,326.7 2707.9,326.7 2726.8,326.7 2760.7,326.7 2781,326.7 2814.6,326.7 2834.3,326.7 2868.2,326.7 2887.9,326.7 2922.5,326.7 2941.4,326.7 1070.4,353.5 1124,353.5 1154.6,353.5 1174,353.5 1208,353.5 1226.8,353.5 1262,353.5 1282,353.5 1315.7,353.5 1334.6,353.5 1369.6,353.5 1388.2,353.5 1422.9,353.5 1441.8,353.5 1475.7,353.5 1495.4,353.5 1529.3,353.5 1549,353.5 1583.6,353.5 1602.5,353.5 1636.4,353.5 1655.4,353.5 1690,353.5 2118.6,353.5 2139,353.5 2172,353.5 2192.5,353.5 2225.4,353.5 2247,353.5 2279.3,353.5 2300.7,353.5 2332.9,353.5 2354.3,353.5 2386.4,353.5 2407.9,353.5 2440,353.5 1723,332.4 1749.2,332.4 1757,332.4 1803,332.4 1811,332.4 1857,332.4 1865,332.4 1911,332.4 1919,332.4 1964,332.4 1972,332.4 2018,332.4 2026,332.4"/>
</g>
<use href="#upperDoors" transform="matrix(1 0 0 -1 0 789)"/>
<polyline class="ml" marker-start="url(#nd)" marker-mid="url(#nd)" marker-end="url(#nd)" points="440.4,340.7 497.5,340.7 604,340.7 654,340.7 711,340.7 759.6,340.7 2690,340.7 2748.6,340.7 2795,340.7 2836,340.7 2870,340.7 2895,340.7 1254,368.4 1288,368.4 1315,368.4 1388,368.4 1422,368.4 1441.8,368.4 2425,367 1831.8,415.3 1892.5,415.3 1939,415.3"/>
<polyline class="ml" marker-start="url(#nu)" marker-mid="url(#nu)" marker-end="url(#nu)" points="442,448 499,448 545,448 604,448 653,448 713,448 759.6,448 818.6,448 2729,448 2784,448 2836,448 2870,448 2895,448 1869,400.3 1905,400.3 1932,400.3 2386.4,420.7 2425,420.7"/>
<polyline class="ml" marker-start="url(#nl)" marker-mid="url(#nl)" marker-end="url(#nl)" points="2959.6,376.8 2959.6,410 2959.6,438.4"/>
<polyline class="ml" marker-start="url(#nr)" marker-mid="url(#nr)" marker-end="url(#nr)" points="2972.5,376.8 2972.5,319.9 2972.5,466.4"/>
</g>

<g id="labels">
<text class="cjk" transform="translate(142 442)rotate(-90)" style="font-size:46px;fill:#b1b3b1">前方</text>
<text class="cjk" transform="translate(3154 442)rotate(-90)" style="font-size:46px;fill:#b1b3b1">後方</text>
<rect x="0" y="634" width="147" height="155" fill="#b1b3b1" style="stroke:none"/>
<text class="cjk w" transform="translate(53 757)rotate(-90)" style="font-size:29px;font-weight:700">デッキ</text>
<text class="w" transform="translate(122 733)rotate(-90)" style="font-size:62px;font-weight:700;letter-spacing:0">5</text>
</g>
</svg>
